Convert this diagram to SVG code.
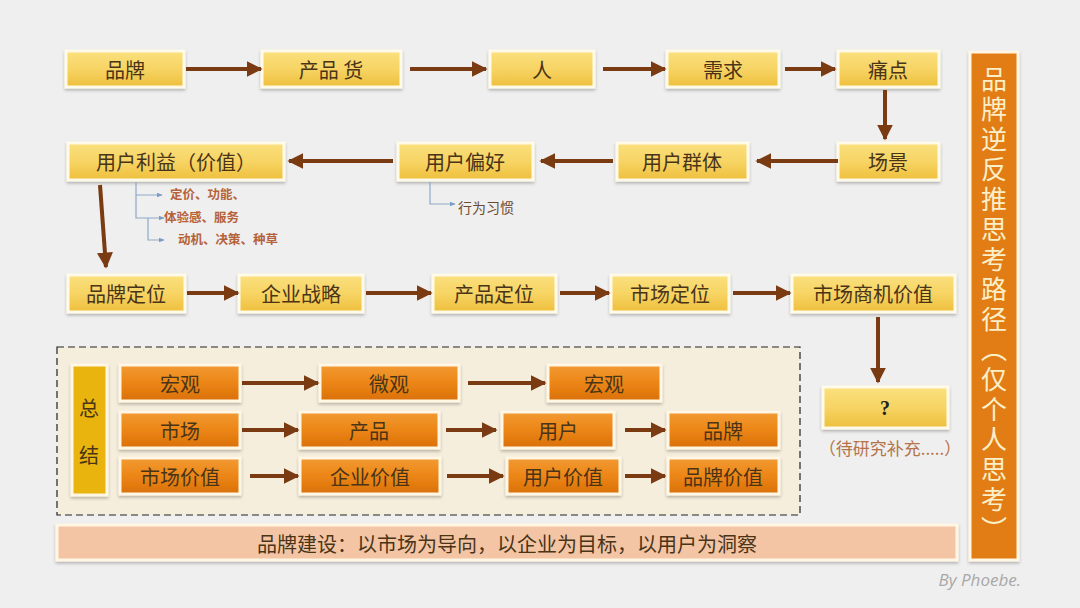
<svg xmlns="http://www.w3.org/2000/svg" width="1080" height="608" viewBox="0 0 1080 608">
<defs>
<linearGradient id="gy" x1="0" y1="0" x2="0" y2="1">
<stop offset="0" stop-color="#fae07e"/><stop offset="0.5" stop-color="#f7d464"/><stop offset="1" stop-color="#eebf3c"/>
</linearGradient>
<linearGradient id="go" x1="0" y1="0" x2="0" y2="1">
<stop offset="0" stop-color="#f29a34"/><stop offset="0.5" stop-color="#ec8616"/><stop offset="1" stop-color="#d97008"/>
</linearGradient>
<filter id="sh" x="-10%" y="-20%" width="120%" height="150%">
<feDropShadow dx="0" dy="2" stdDeviation="1.5" flood-color="#000" flood-opacity="0.25"/>
</filter>
<marker id="ah" viewBox="0 0 10 10" refX="9" refY="5" markerWidth="4" markerHeight="4" orient="auto" markerUnits="strokeWidth">
<path d="M0,0 L10,5 L0,10 z" fill="#7a3a12"/>
</marker>
<marker id="sa" viewBox="0 0 10 10" refX="9" refY="5" markerWidth="6" markerHeight="6" orient="auto" markerUnits="userSpaceOnUse">
<path d="M0,1 L10,5 L0,9 z" fill="#7b9cc4"/>
</marker>
<style>
.y{fill:url(#gy);stroke:#fffbe8;stroke-width:3;filter:url(#sh)}
.o{fill:url(#go);stroke:#fff6e4;stroke-width:3;filter:url(#sh)}
.t{font-family:"Noto Sans CJK SC","Liberation Sans",sans-serif;font-size:20px;fill:#4a3418;text-anchor:middle;dominant-baseline:central}
.a{stroke:#7a3a12;stroke-width:4;fill:none;marker-end:url(#ah)}
.s{stroke:#8ea9c8;stroke-width:1.2;fill:none;marker-end:url(#sa)}
.n{font-family:"Noto Sans CJK SC","Liberation Serif",serif;font-size:12.5px;font-weight:bold;fill:#b5623a}
</style>
</defs>
<rect width="1080" height="608" fill="#efefef"/>

<!-- summary panel -->
<g id="summary-panel">
<rect x="57" y="347" width="743" height="168" fill="#f5eedd" stroke="#222" stroke-width="1.2" stroke-dasharray="7,4"/>
</g>

<!-- right vertical title -->
<g id="title">
<rect x="970" y="52" width="48" height="508" fill="#e27d12" stroke="#fff6e4" stroke-width="3" filter="url(#sh)"/>
<text x="994" y="66" font-family="Noto Sans CJK SC,sans-serif" font-size="26" fill="#fbefc8" style="writing-mode:vertical-rl;letter-spacing:4px">品牌逆反推思考路径（仅个人思考）</text>
</g>

<!-- row 1 -->
<g id="n-pinpai"><rect class="y" x="66" y="51" width="118" height="36"/><text class="t" x="125" y="69">品牌</text></g>
<g id="n-chanpinhuo"><rect class="y" x="262" y="51" width="139" height="36"/><text class="t" x="331" y="69">产品 货</text></g>
<g id="n-ren"><rect class="y" x="490" y="51" width="104" height="36"/><text class="t" x="542" y="69">人</text></g>
<g id="n-xuqiu"><rect class="y" x="667" y="51" width="112" height="36"/><text class="t" x="723" y="69">需求</text></g>
<g id="n-tongdian"><rect class="y" x="838" y="51" width="101" height="36"/><text class="t" x="888" y="69">痛点</text></g>

<!-- row 2 -->
<g id="n-yonghuliyi"><rect class="y" x="68" y="143" width="216" height="37"/><text class="t" x="176" y="161">用户利益（价值）</text></g>
<g id="n-yonghupianhao"><rect class="y" x="398" y="143" width="135" height="37"/><text class="t" x="465" y="161">用户偏好</text></g>
<g id="n-yonghuqunti"><rect class="y" x="617" y="143" width="131" height="37"/><text class="t" x="682" y="161">用户群体</text></g>
<g id="n-changjing"><rect class="y" x="838" y="143" width="101" height="37"/><text class="t" x="888" y="161">场景</text></g>

<!-- row 3 -->
<g id="n-pinpaidingwei"><rect class="y" x="68" y="275" width="117" height="37"/><text class="t" x="126" y="293">品牌定位</text></g>
<g id="n-qiyezhanlue"><rect class="y" x="239" y="275" width="124" height="37"/><text class="t" x="301" y="293">企业战略</text></g>
<g id="n-chanpindingwei"><rect class="y" x="433" y="275" width="123" height="37"/><text class="t" x="494" y="293">产品定位</text></g>
<g id="n-shichangdingwei"><rect class="y" x="611" y="275" width="118" height="37"/><text class="t" x="670" y="293">市场定位</text></g>
<g id="n-shangji"><rect class="y" x="792" y="275" width="163" height="37"/><text class="t" x="873" y="293">市场商机价值</text></g>

<!-- question -->
<g id="n-q"><rect class="y" x="823" y="387" width="125" height="41"/><text x="885" y="408" font-family="Liberation Serif,serif" font-weight="bold" font-size="20" fill="#222" text-anchor="middle" dominant-baseline="central">?</text></g>
<g id="note-q"><text x="890" y="447" font-family="Noto Sans CJK SC,sans-serif" font-size="17" fill="#b5734a" text-anchor="middle" dominant-baseline="central">（待研究补充.....）</text></g>

<!-- summary -->
<g id="n-zongjie"><rect x="72" y="365" width="35" height="130" fill="#e8b410" stroke="#fff6e4" stroke-width="3" filter="url(#sh)"/>
<text class="t" x="89" y="407">总</text><text class="t" x="89" y="454">结</text></g>
<g id="n-hongguan1"><rect class="o" x="120" y="365" width="120" height="36"/><text class="t" x="180" y="383">宏观</text></g>
<g id="n-weiguan"><rect class="o" x="320" y="365" width="139" height="36"/><text class="t" x="389" y="383">微观</text></g>
<g id="n-hongguan2"><rect class="o" x="548" y="365" width="113" height="36"/><text class="t" x="604" y="383">宏观</text></g>
<g id="n-shichang"><rect class="o" x="120" y="412" width="120" height="36"/><text class="t" x="180" y="430">市场</text></g>
<g id="n-chanpin"><rect class="o" x="300" y="412" width="139" height="36"/><text class="t" x="369" y="430">产品</text></g>
<g id="n-yonghu"><rect class="o" x="502" y="412" width="112" height="36"/><text class="t" x="558" y="430">用户</text></g>
<g id="n-pinpai2"><rect class="o" x="668" y="412" width="111" height="36"/><text class="t" x="723" y="430">品牌</text></g>
<g id="n-shichangjiazhi"><rect class="o" x="120" y="458" width="120" height="36"/><text class="t" x="180" y="476">市场价值</text></g>
<g id="n-qiyejiazhi"><rect class="o" x="300" y="458" width="140" height="36"/><text class="t" x="370" y="476">企业价值</text></g>
<g id="n-yonghujiazhi"><rect class="o" x="507" y="458" width="113" height="36"/><text class="t" x="563" y="476">用户价值</text></g>
<g id="n-pinpaijiazhi"><rect class="o" x="668" y="458" width="111" height="36"/><text class="t" x="723" y="476">品牌价值</text></g>

<!-- bottom bar -->
<g id="n-bottom"><rect x="57" y="525" width="900" height="35" fill="#f4c5a4" stroke="#fff6e4" stroke-width="3" filter="url(#sh)"/>
<text class="t" x="507" y="543">品牌建设：以市场为导向，以企业为目标，以用户为洞察</text></g>

<!-- annotations -->
<g id="annotations">
<path class="s" d="M136,182 V195 H162"/>
<path class="s" d="M136,195 V218 H164"/>
<path class="s" d="M148,218 V240 H164"/>
<text class="n" x="170" y="199">定价、功能、</text>
<text class="n" x="164" y="222">体验感、服务</text>
<text class="n" x="178" y="244">动机、决策、种草</text>
<path class="s" d="M430,182 V204 H455"/>
<text x="458" y="213" font-family="Noto Sans CJK SC,sans-serif" font-size="14" fill="#6b4a32">行为习惯</text>
</g>

<!-- connectors -->
<g id="connectors">
<line class="a" x1="186" y1="69" x2="261" y2="69"/>
<line class="a" x1="410" y1="69" x2="486" y2="69"/>
<line class="a" x1="603" y1="69" x2="665" y2="69"/>
<line class="a" x1="785" y1="69" x2="835" y2="69"/>
<line class="a" x1="885" y1="90" x2="885" y2="139"/>
<line class="a" x1="838" y1="161" x2="757" y2="161"/>
<line class="a" x1="613" y1="161" x2="541" y2="161"/>
<line class="a" x1="393" y1="161" x2="289" y2="161"/>
<line class="a" x1="100" y1="185" x2="106" y2="267"/>
<line class="a" x1="187" y1="293" x2="238" y2="293"/>
<line class="a" x1="366" y1="293" x2="431" y2="293"/>
<line class="a" x1="560" y1="293" x2="609" y2="293"/>
<line class="a" x1="733" y1="293" x2="790" y2="293"/>
<line class="a" x1="878" y1="317" x2="878" y2="382"/>
<line class="a" x1="242" y1="383" x2="318" y2="383"/>
<line class="a" x1="468" y1="383" x2="545" y2="383"/>
<line class="a" x1="242" y1="430" x2="298" y2="430"/>
<line class="a" x1="446" y1="430" x2="496" y2="430"/>
<line class="a" x1="625" y1="430" x2="665" y2="430"/>
<line class="a" x1="250" y1="476" x2="298" y2="476"/>
<line class="a" x1="447" y1="476" x2="503" y2="476"/>
<line class="a" x1="625" y1="476" x2="665" y2="476"/>
</g>

<text x="1021" y="586" font-family="Open Sans,sans-serif" font-style="italic" font-size="17" fill="#a8a8a8" text-anchor="end">By Phoebe.</text>
</svg>
